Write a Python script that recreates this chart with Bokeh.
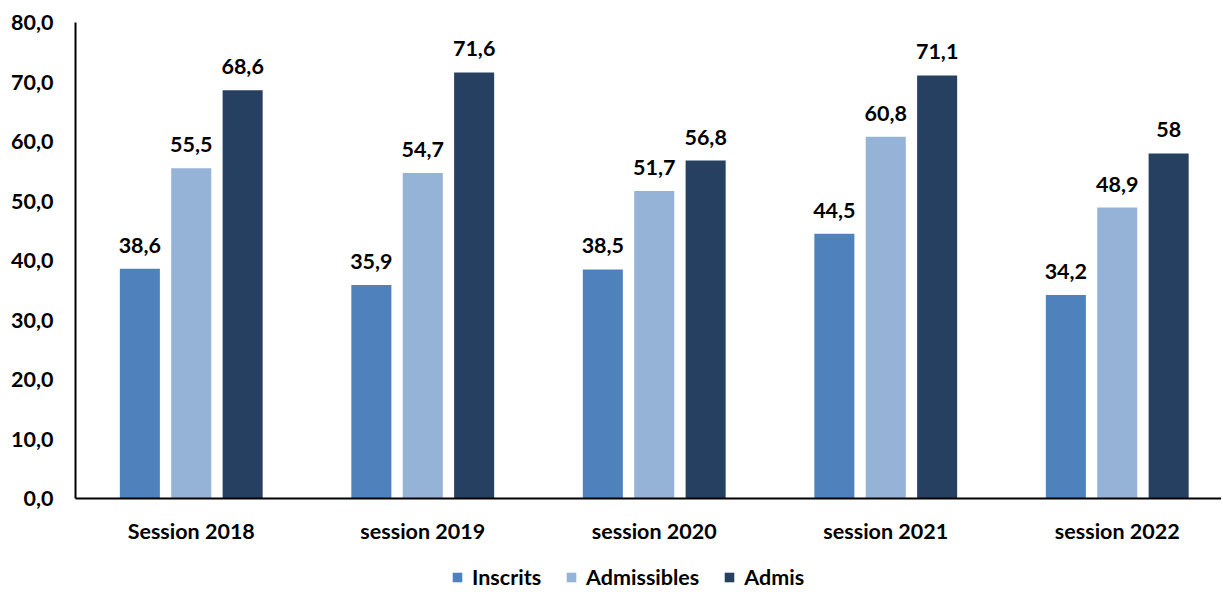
from bokeh.plotting import figure
from bokeh.layouts import column
from bokeh.models import ColumnDataSource, Range1d, Legend, LegendItem, FixedTicker, LabelSet
from bokeh.core.properties import value
from bokeh.embed import file_html
from bokeh.resources import INLINE

sessions = ["Session 2018", "session 2019", "session 2020", "session 2021", "session 2022"]
series = ["Inscrits", "Admissibles", "Admis"]
inscrits = [38.6, 35.9, 38.5, 44.5, 34.2]
admissibles = [55.5, 54.7, 51.7, 60.8, 48.9]
admis = [68.6, 71.6, 56.8, 71.1, 58]
colors = ["#4F81BD", "#95B3D7", "#254061"]
y_ticks = [0, 10, 20, 30, 40, 50, 60, 70, 80]

FONT = "Lato"
FS = "21.5px"
FW = 1146

p = figure(frame_width=FW, frame_height=476, output_backend="svg", toolbar_location=None,
           x_range=Range1d(0, FW / 231.5), y_range=Range1d(0, 80),
           min_border_left=75, min_border_right=0, min_border_top=22, min_border_bottom=65)
p.outline_line_color = None
p.xgrid.visible = False
p.ygrid.visible = False

offsets = [-0.222, 0.0, 0.222]
for vals, col, off in zip([inscrits, admissibles, admis], colors, offsets):
    xs = [i + 0.5 + off for i in range(len(sessions))]
    labels = [f"{v:g}".replace(".", ",") for v in vals]
    src = ColumnDataSource(dict(x=xs, top=vals, lab=labels))
    p.vbar(x="x", top="top", width=0.173, bottom=0, source=src,
           fill_color=col, line_color=None)
    ls = LabelSet(x="x", y="top", text="lab", source=src, text_align="center",
                  text_baseline="bottom", y_offset=16, text_font=value(FONT),
                  text_font_style="bold", text_font_size=FS, text_color="#000000")
    p.add_layout(ls)

# axes
p.xaxis.ticker = FixedTicker(ticks=[i + 0.5 for i in range(len(sessions))])
p.xaxis.major_label_overrides = {i + 0.5: s for i, s in enumerate(sessions)}
p.yaxis.ticker = FixedTicker(ticks=y_ticks)
p.yaxis.major_label_overrides = {t: f"{t:.1f}".replace(".", ",") for t in y_ticks}
for ax in (p.xaxis[0], p.yaxis[0]):
    ax.major_tick_line_color = None
    ax.minor_tick_line_color = None
    ax.major_tick_out = 0
    ax.major_tick_in = 0
    ax.axis_line_color = "#000000"
    ax.axis_line_width = 2
    ax.major_label_text_font = FONT
    ax.major_label_text_font_style = "bold"
    ax.major_label_text_font_size = FS
    ax.major_label_text_color = "#000000"
p.xaxis.major_label_standoff = 19
p.yaxis.major_label_standoff = 22

# legend strip below the chart
lf = figure(width=1223, height=27, output_backend="svg", toolbar_location=None,
            x_range=Range1d(0, 1), y_range=Range1d(0, 1),
            min_border_left=0, min_border_right=0, min_border_top=0, min_border_bottom=0,
            x_axis_location=None, y_axis_location=None)
lf.outline_line_color = None
lf.xgrid.visible = False
lf.ygrid.visible = False
items = []
for name, col in zip(series, colors):
    # off-screen bar: only its legend swatch is visible
    r = lf.vbar(x=[10], top=[1], width=0.1, fill_color=col, line_color=None)
    items.append(LegendItem(label=name, renderers=[r]))
legend = Legend(items=items, orientation="horizontal", location=(376, 0),
                label_text_font=FONT, label_text_font_style="bold",
                label_text_font_size=FS, label_text_color="#000000",
                glyph_width=12, glyph_height=12, spacing=24, label_standoff=9,
                border_line_color=None, background_fill_alpha=0,
                margin=0, padding=0)
lf.add_layout(legend, "center")

open("out.html", "w").write(file_html(column(p, lf, spacing=0), INLINE))
